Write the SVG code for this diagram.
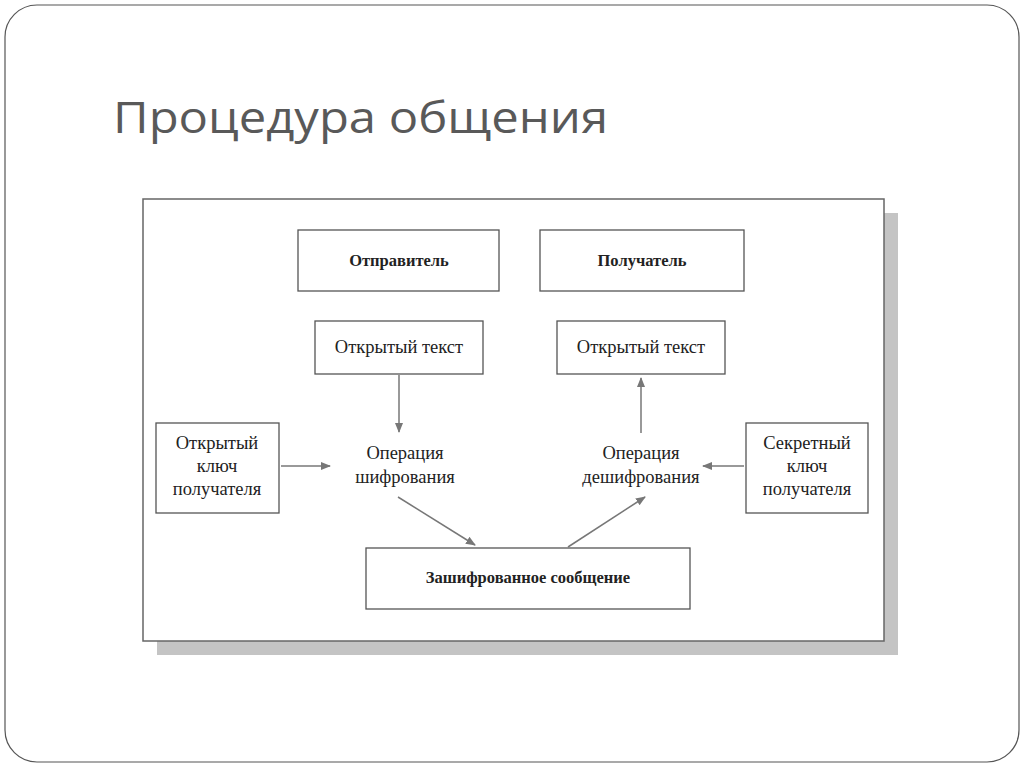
<svg xmlns="http://www.w3.org/2000/svg" width="1024" height="767" viewBox="0 0 1024 767">
<style>
.b{fill:#fff;stroke:#555;stroke-width:1.3}
.t{font-family:"Liberation Serif",serif;font-size:18.5px;fill:#222;text-anchor:middle}
.bd{font-weight:bold;font-size:16.5px}
.c{stroke:#777;stroke-width:1.5;fill:none;marker-end:url(#a)}
</style>
<defs><marker id="a" viewBox="0 0 10 10" refX="9" refY="5" markerWidth="10" markerHeight="10" markerUnits="userSpaceOnUse" orient="auto"><path d="M0,1 L10,5 L0,9 z" fill="#777"/></marker></defs>
<rect x="0" y="0" width="1024" height="767" fill="#fff"/>
<rect x="5" y="5" width="1014" height="757" rx="32" fill="none" stroke="#555" stroke-width="1.2"/>
<text x="113" y="133" font-family="Open Sans, sans-serif" font-size="44" fill="#595959" textLength="495" lengthAdjust="spacingAndGlyphs">Процедура общения</text>
<rect x="157" y="213" width="741" height="442" fill="#c4c4c4"/>
<rect x="143" y="199" width="741" height="442" fill="#fff" stroke="#666" stroke-width="1.5"/>
<g id="sender"><rect class="b" x="298" y="230" width="201" height="61"/><text class="t bd" x="399" y="266">Отправитель</text></g>
<g id="receiver"><rect class="b" x="540" y="230" width="204" height="61"/><text class="t bd" x="642" y="266">Получатель</text></g>
<g id="pt1"><rect class="b" x="315" y="321" width="168" height="53"/><text class="t" x="399" y="353">Открытый текст</text></g>
<g id="pt2"><rect class="b" x="557" y="321" width="168" height="53"/><text class="t" x="641" y="353">Открытый текст</text></g>
<g id="pubkey"><rect class="b" x="156" y="423" width="123" height="90"/><text class="t" x="217" y="449">Открытый</text><text class="t" x="217" y="472">ключ</text><text class="t" x="217" y="495">получателя</text></g>
<g id="seckey"><rect class="b" x="746" y="423" width="122" height="90"/><text class="t" x="807" y="449">Секретный</text><text class="t" x="807" y="472">ключ</text><text class="t" x="807" y="495">получателя</text></g>
<g id="enc"><text class="t" x="405" y="459">Операция</text><text class="t" x="405" y="483">шифрования</text></g>
<g id="dec"><text class="t" x="641" y="459">Операция</text><text class="t" x="641" y="483">дешифрования</text></g>
<g id="msg"><rect class="b" x="366" y="548" width="324" height="61"/><text class="t bd" x="528" y="583">Зашифрованное сообщение</text></g>
<g id="connectors">
<path class="c" d="M399,375 L399,432"/>
<path class="c" d="M281,466 L330,466"/>
<path class="c" d="M744,466 L703,466"/>
<path class="c" d="M398,497 L475,545"/>
<path class="c" d="M568,547 L645,497"/>
<path class="c" d="M641,433 L641,378"/>
</g>
</svg>
